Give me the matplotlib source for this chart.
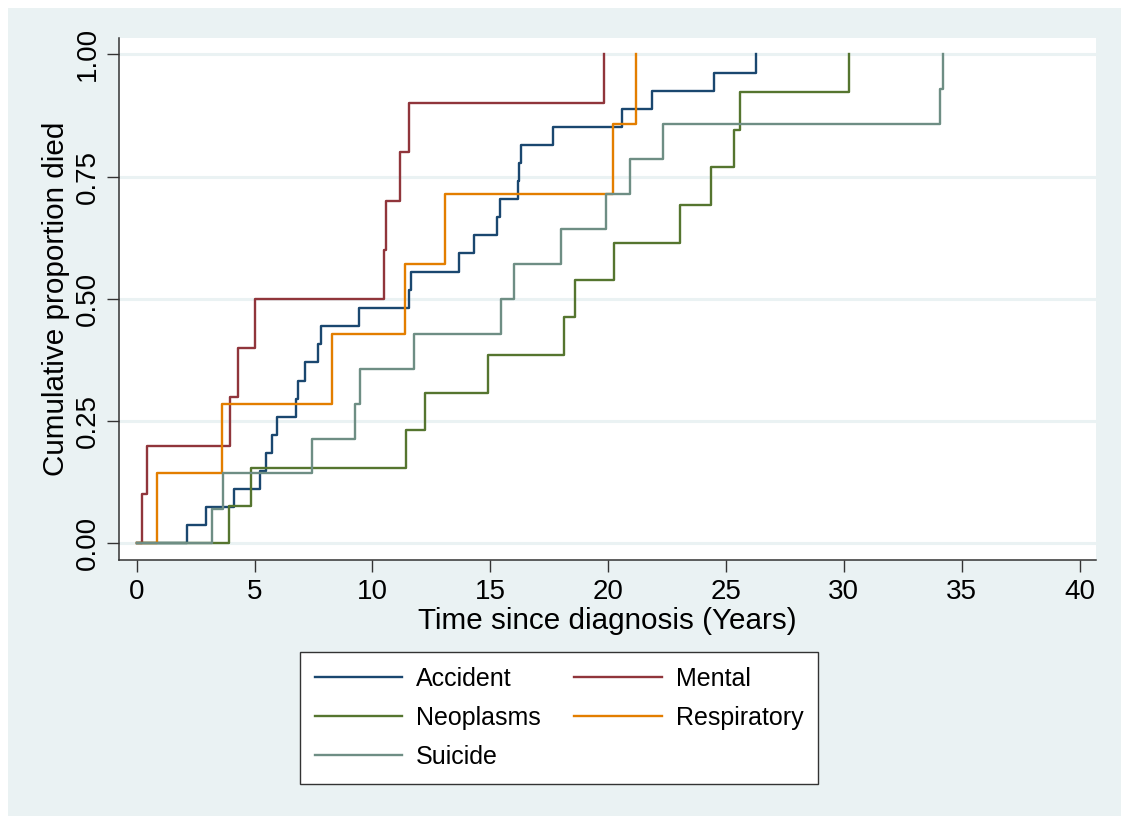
import matplotlib.pyplot as plt
from matplotlib.patches import Rectangle
import numpy as np

plt.rcParams.update({'font.size': 20})
plt.rcParams['font.family'] = ['Liberation Sans', 'DejaVu Sans']

# event times (years) and cumulative proportion died
accident_t = [0, 2.15, 2.92, 4.12, 5.21, 5.47, 5.75, 5.96, 6.74, 6.85, 7.15, 7.70, 7.83,
              9.41, 11.57, 11.64, 13.69, 14.32, 15.27, 15.41, 16.16, 16.20, 16.30,
              17.67, 20.60, 21.88, 24.49, 26.28]
accident_p = [0, 0.037, 0.074, 0.111, 0.148, 0.185, 0.222, 0.259, 0.296, 0.333, 0.370,
              0.407, 0.444, 0.481, 0.519, 0.556, 0.593, 0.630, 0.667, 0.704, 0.741,
              0.778, 0.815, 0.852, 0.889, 0.926, 0.963, 1.0]

mental_t = [0, 0.21, 0.42, 3.94, 4.30, 5.00, 10.50, 10.58, 11.19, 11.57, 19.83]
mental_p = [0, 0.1, 0.2, 0.3, 0.4, 0.5, 0.6, 0.7, 0.8, 0.9, 1.0]

neoplasms_t = [0, 3.91, 4.86, 11.43, 12.23, 14.92, 18.14, 18.60, 20.25, 23.05, 24.38,
               25.35, 25.60, 30.24]
neoplasms_p = [0, 0.077, 0.154, 0.231, 0.308, 0.385, 0.462, 0.538, 0.615, 0.692, 0.769,
               0.846, 0.923, 1.0]

respiratory_t = [0, 0.86, 3.63, 8.29, 11.38, 13.09, 20.22, 21.17]
respiratory_p = [0, 0.143, 0.286, 0.429, 0.571, 0.714, 0.857, 1.0]

suicide_t = [0, 3.19, 3.66, 7.44, 9.28, 9.48, 11.78, 15.45, 15.99, 18.00, 19.90, 20.92,
             22.33, 34.10, 34.19]
suicide_p = [0, 0.071, 0.143, 0.214, 0.286, 0.357, 0.429, 0.500, 0.571, 0.643, 0.714,
             0.786, 0.857, 0.929, 1.0]

labels = ['Accident', 'Mental', 'Neoplasms', 'Respiratory', 'Suicide']
colors = ['#1a476f', '#90353b', '#55752f', '#e37e00', '#6e8e84']
series = [(accident_t, accident_p), (mental_t, mental_p), (neoplasms_t, neoplasms_p),
          (respiratory_t, respiratory_p), (suicide_t, suicide_p)]

bg = '#eaf2f3'
W, H = 1121, 816
fig = plt.figure(figsize=(W / 100, H / 100), dpi=100)
fig.patch.set_facecolor('white')
fig.patches.append(Rectangle((8 / W, 0), 1 - 8 / W, 1 - 8 / H, transform=fig.transFigure,
                             facecolor=bg, edgecolor='none', zorder=-10))

ax = fig.add_axes([119.3 / W, 1 - 560 / H, (1096 - 119.3) / W, (560 - 38.3) / H])
ax.set_facecolor('white')

lines = []
for (t, p), lab, c in zip(series, labels, colors):
    l, = ax.step(t, p, where='post', color=c, lw=1.7, label=lab)
    lines.append(l)

ax.set_xlim(-0.74, 40.7)
ax.set_ylim(-0.034, 1.033)
ax.set_xticks(np.arange(0, 41, 5))
ax.set_yticks([0, 0.25, 0.5, 0.75, 1.0])
ax.set_yticklabels(['0.00', '0.25', '0.50', '0.75', '1.00'])
ax.grid(axis='y', color=bg, lw=2.2)
ax.set_axisbelow(True)

for s in ['top', 'right']:
    ax.spines[s].set_visible(False)
for s in ['left', 'bottom']:
    ax.spines[s].set_color('#333333')
    ax.spines[s].set_linewidth(1.1)
ax.tick_params(direction='out', length=8.5, width=1.0, color='#333333', pad=5)
ax.tick_params(axis='y', labelrotation=90)
for lbl in ax.get_yticklabels():
    lbl.set_va('center')

ax.set_xlabel('Time since diagnosis (Years)', fontsize=21.3)
ax.set_ylabel('Cumulative proportion died', fontsize=21.3)
ax.xaxis.set_label_coords(0.5, -(621 - 560) / (560 - 38.3))
ax.xaxis.label.set_va('center')
ax.yaxis.set_label_coords((56 - 119.3) / (1096 - 119.3), 0.5)
ax.yaxis.label.set_va('center')

# legend fills column by column, so reorder to get rows Accident/Mental, ...
order = [0, 2, 4, 1, 3]
leg = fig.legend([lines[i] for i in order], [labels[i] for i in order],
                 loc='center', bbox_to_anchor=(559 / W, 1 - 718 / H), ncol=2,
                 fontsize=18, handlelength=3.5, handletextpad=0.56, columnspacing=1.33,
                 labelspacing=0.6, borderpad=0.6, fancybox=False, framealpha=1,
                 edgecolor='#333333')
leg.get_frame().set_linewidth(1.0)

fig.savefig('out.png', dpi=100, facecolor=fig.get_facecolor())
